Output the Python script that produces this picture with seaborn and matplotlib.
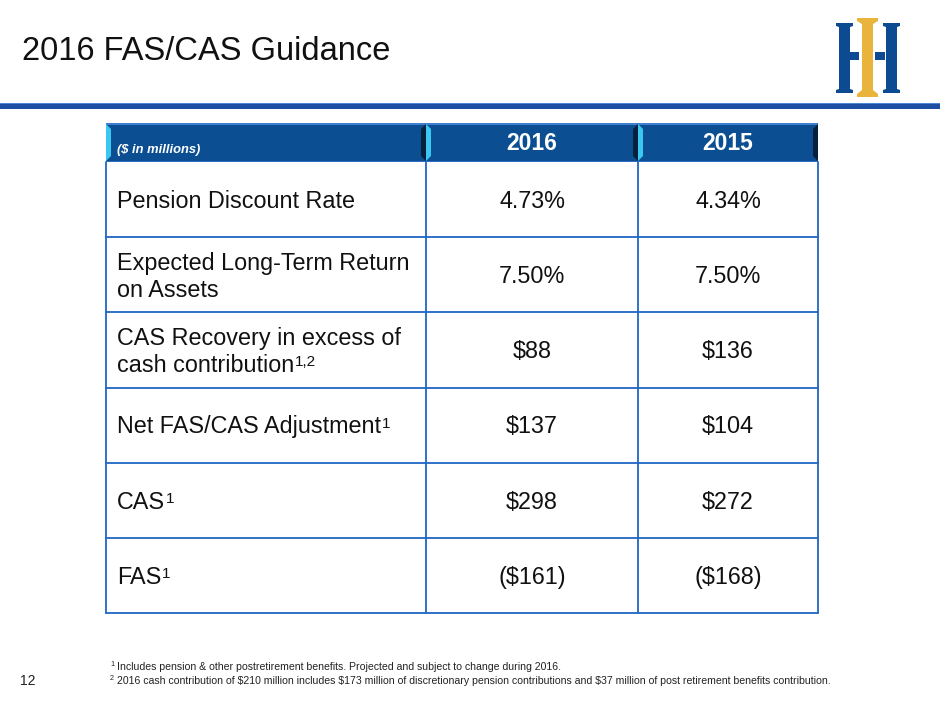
import numpy as np
import pandas as pd
import matplotlib
matplotlib.use("Agg")
import matplotlib.pyplot as plt
from matplotlib.patches import Rectangle, Polygon
import seaborn as sns

# table data
years = ["2016", "2015"]
row_labels = [
    "Pension Discount Rate",
    "Expected Long-Term Return\non Assets",
    "CAS Recovery in excess of\ncash contribution",
    "Net FAS/CAS Adjustment",
    "CAS",
    "FAS",
]
label_sups = ["", "", "1,2", "1", "1", "1"]
vals_2016 = ["4.73%", "7.50%", "$88", "$137", "$298", "($161)"]
vals_2015 = ["4.34%", "7.50%", "$136", "$104", "$272", "($168)"]
unit_label = "($ in millions)"
title = "2016 FAS/CAS Guidance"
page_no = "12"
footnotes = [
    "Includes pension & other postretirement benefits. Projected and subject to change during 2016.",
    "2016 cash contribution of $210 million includes $173 million of discretionary pension contributions and $37 million of post retirement benefits contribution.",
]

df = pd.DataFrame({"label": row_labels, "sup": label_sups,
                   years[0]: vals_2016, years[1]: vals_2015})

sns.set_theme(style="white")
plt.rcParams['font.family'] = ['Liberation Sans', 'DejaVu Sans']

HEAD = "#0b4f92"
GRID = "#1f66c4"
INK = "#111111"
FS = 16.8
SUP_FS = 11

fig = plt.figure(figsize=(9.4, 7.05), dpi=100)
ax = fig.add_axes([0, 0, 1, 1])
ax.set_xlim(0, 940)
ax.set_ylim(705, 0)
ax.axis("off")
renderer = fig.canvas.get_renderer()

# title + rule
ax.text(22, 52, title, fontsize=23.5, va="center", ha="left", color=INK)
ax.add_patch(Rectangle((0, 104), 940, 4.5, color="#1d4fa3", lw=0))
ax.add_patch(Rectangle((0, 102.8), 940, 1.4, color="#4a86d6", lw=0))

# logo
blue = "#0c4a92"
gold = "#e8b43c"
for x0 in (836, 883):
    ax.add_patch(Polygon([(x0, 23), (x0 + 17, 23), (x0 + 17, 26), (x0 + 14, 27),
                          (x0 + 14, 89), (x0 + 17, 90), (x0 + 17, 93), (x0, 93),
                          (x0, 90), (x0 + 3, 89), (x0 + 3, 27), (x0, 26)],
                         closed=True, color=blue, lw=0))
ax.add_patch(Rectangle((849, 52), 10, 8, color=blue, lw=0))
ax.add_patch(Rectangle((875, 52), 10, 8, color=blue, lw=0))
ax.add_patch(Polygon([(857, 18), (878, 18), (878, 21), (873, 24), (873, 90),
                      (878, 94), (878, 97), (857, 97), (857, 94), (862, 90),
                      (862, 24), (857, 21)], closed=True, color=gold, lw=0))

# table geometry
col_x = [106, 426, 638, 818]
head_top, head_bot = 123, 162
row_h = (613 - head_bot) / len(df)

# header cells with bevel
for i in range(3):
    x0, x1 = col_x[i], col_x[i + 1]
    ax.add_patch(Rectangle((x0, head_top), x1 - x0, head_bot - head_top, color=HEAD, lw=0))
    ax.add_patch(Rectangle((x0, head_top), x1 - x0, 1.6, color="#3f7fd0", lw=0))
    ax.add_patch(Rectangle((x0, head_bot - 1.5), x1 - x0, 1.5, color="#2d6cc0", lw=0))
    ax.add_patch(Polygon([(x0, head_top + 1), (x0 + 5, head_top + 6), (x0 + 5, head_bot - 6),
                          (x0, head_bot - 1)], closed=True, color="#3cc6f2", lw=0))
    ax.add_patch(Polygon([(x1, head_top + 1), (x1 - 5, head_top + 6), (x1 - 5, head_bot - 6),
                          (x1, head_bot - 1)], closed=True, color="#06213f", lw=0))

ax.text(117, 150, unit_label, fontsize=9.3, color="white", weight="bold",
        style="italic", va="center", ha="left")
for j, yr in enumerate(years):
    ax.text((col_x[j + 1] + col_x[j + 2]) / 2, 143, yr, fontsize=16.5, color="white",
            weight="bold", va="center", ha="center")

# body
cap = 8.3      # half cap height in px
gap = 27       # line spacing in px
sup_h = 0.716 * SUP_FS / 0.72
for r, row in df.iterrows():
    y0 = head_bot + r * row_h
    yc = y0 + row_h / 2
    lines = row["label"].split("\n")
    n = len(lines)
    t = None
    for k, ln in enumerate(lines):
        yb = yc + cap + (k - (n - 1) / 2) * gap
        t = ax.text(117, yb, ln, fontsize=FS, va="baseline", ha="left", color=INK)
    if row["sup"]:
        bb = t.get_window_extent(renderer)
        ax.text(bb.x1 + 0.5, yb - 2 * cap + sup_h, row["sup"], fontsize=SUP_FS,
                va="baseline", ha="left", color=INK)
    for j, yr in enumerate(years):
        ax.text((col_x[j + 1] + col_x[j + 2]) / 2, yc + cap, row[yr], fontsize=FS,
                va="baseline", ha="center", color=INK)
    ax.plot([col_x[0], col_x[-1]], [y0 + row_h, y0 + row_h], color=GRID, lw=1.3)

for x in col_x:
    ax.plot([x, x], [head_bot, 613], color=GRID, lw=1.3)

# footnotes
for k, note in enumerate(footnotes):
    yb = 667 + k * 14
    ax.text(110, yb - 3, str(k + 1), fontsize=5.2, va="center", ha="left", color="#222222")
    ax.text(117, yb, note, fontsize=7.6, va="center", ha="left", color="#222222")
ax.text(20, 681, page_no, fontsize=10, va="center", ha="left", color="#222222")

fig.savefig("out.png", dpi=100)
